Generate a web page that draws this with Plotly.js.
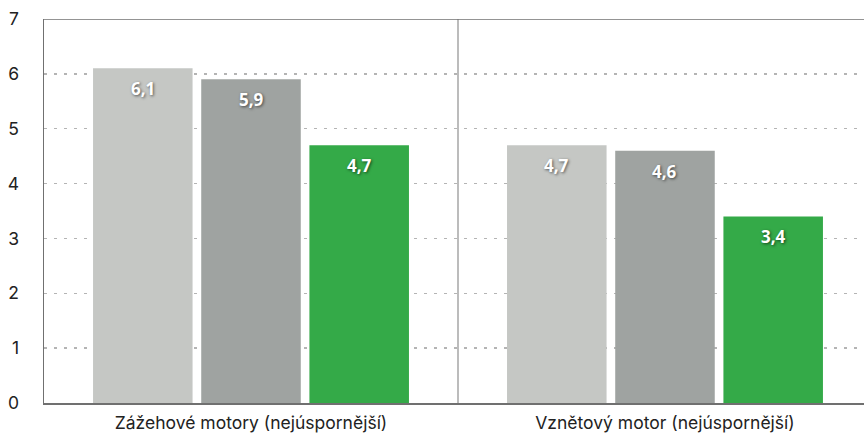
<!DOCTYPE html>
<html>
<head>
<meta charset="utf-8">
<script src="https://cdn.plot.ly/plotly-3.0.1.min.js"></script>
<style>
  html, body { margin: 0; padding: 0; background: #fff; }
  #chart { width: 864px; height: 434px; }
</style>
</head>
<body>
<div id="chart"></div>
<script>
// Categories and values (spotřeba, l/100 km)
const categories = ['Zážehové motory (nejúspornější)', 'Vznětový motor (nejúspornější)'];
const seriesNames = ['Řada 1', 'Řada 2', 'Řada 3'];
const seriesA = [6.1, 4.7];
const seriesB = [5.9, 4.6];
const seriesC = [4.7, 3.4];
const yTicks = [0, 1, 2, 3, 4, 5, 6, 7];

const colors = ['#c5c7c4', '#9fa3a1', '#34aa48'];
const allSeries = [seriesA, seriesB, seriesC];

const bargap = 0.216;
const slot = (1 - bargap) / allSeries.length;  // one bar slot in category units

const traces = allSeries.map((vals, k) => ({
  type: 'bar',
  name: seriesNames[k],
  x: categories,
  y: vals,
  marker: { color: colors[k], line: { width: 0 } },
  hoverinfo: 'skip'
}));

// Value labels near the top of every bar, with a soft shadow
const annotations = [];
allSeries.forEach((vals, k) => {
  vals.forEach((v, i) => {
    annotations.push({
      x: i + (k - 1) * slot,
      y: v,
      xref: 'x',
      yref: 'y',
      text: v.toFixed(1).replace('.', ','),
      showarrow: false,
      yanchor: 'top',
      yshift: -7,
      font: {
        family: 'Open Sans, Noto Sans, sans-serif',
        size: 17,
        color: '#ffffff',
        weight: 700,
        shadow: '1px 1px 3px rgba(0,0,0,0.6)'
      }
    });
  });
});

const layout = {
  width: 864,
  height: 434,
  paper_bgcolor: '#ffffff',
  plot_bgcolor: '#ffffff',
  margin: { l: 44, r: 0, t: 19, b: 31 },
  showlegend: false,
  barmode: 'group',
  bargap: bargap,
  bargroupgap: 0.08,
  font: { family: 'Inter, Roboto, sans-serif', size: 17.5, color: '#222222' },
  xaxis: {
    type: 'category',
    range: [-0.5, 1.4807],
    showline: true,
    linecolor: '#707070',
    linewidth: 1.5,
    showgrid: false,
    ticks: 'outside',
    ticklen: 3,
    tickcolor: 'rgba(0,0,0,0)',
    tickfont: { size: 17.5, color: '#222222' },
    fixedrange: true
  },
  yaxis: {
    range: [0, 7],
    tickvals: yTicks,
    ticktext: yTicks.map(String),
    showline: true,
    linecolor: '#707070',
    linewidth: 1.5,
    showgrid: true,
    gridcolor: '#b4b4b4',
    gridwidth: 1.5,
    griddash: '3px,7px',
    zeroline: false,
    ticks: 'outside',
    ticklen: 20,
    tickcolor: 'rgba(0,0,0,0)',
    tickfont: { size: 17.5, color: '#222222' },
    fixedrange: true
  },
  shapes: [
    // top frame line
    { type: 'line', xref: 'paper', yref: 'y', x0: 0, x1: 1, y0: 7, y1: 7,
      line: { color: '#707070', width: 1.5 } },
    // separator between the two groups
    { type: 'line', xref: 'x', yref: 'y', x0: 0.5, x1: 0.5, y0: 0, y1: 7,
      line: { color: '#bcbcbc', width: 2 }, layer: 'below' }
  ],
  annotations: annotations
};

Plotly.newPlot('chart', traces, layout, { displayModeBar: false, staticPlot: true });
</script>
</body>
</html>
